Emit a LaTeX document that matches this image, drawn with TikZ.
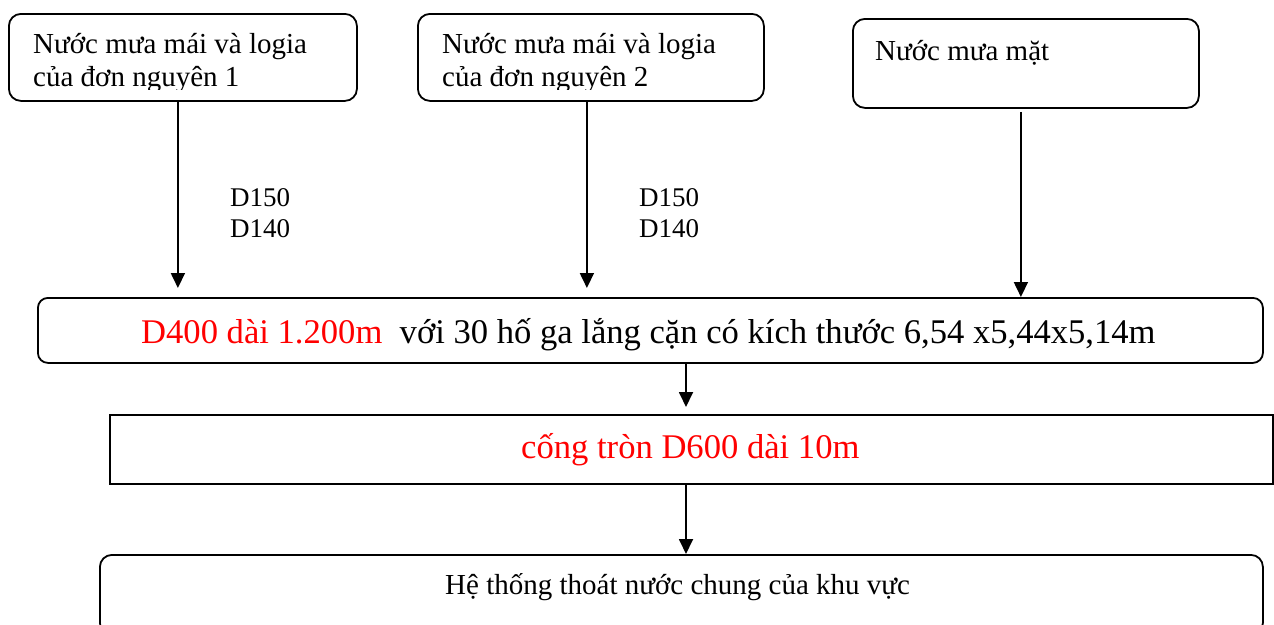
\documentclass[tikz,border=0pt]{standalone}
\usepackage{fontspec}
\setmainfont{Liberation Serif}
\usetikzlibrary{arrows.meta}
\begin{document}
\begin{tikzpicture}[x=1pt,y=-1pt,
  rbox/.style={draw, line width=1.8pt, rounded corners=12pt, inner sep=0pt, anchor=north west},
  sbox/.style={draw, line width=1.8pt, inner sep=0pt, anchor=north west},
  flow/.style={line width=1.8pt, -{Triangle[width=14pt,length=15pt]}},
  lbl/.style={anchor=base west, inner sep=0pt, font=\fontsize{27}{33}\selectfont},
  txt/.style={anchor=base west, inner sep=0pt, font=\fontsize{29}{33}\selectfont},
  big/.style={anchor=base west, inner sep=0pt, font=\fontsize{34.6}{40}\selectfont},
]
\useasboundingbox (0,0) rectangle (1274,624);

% boxes
\node[rbox, minimum width=348pt, minimum height=87pt] (s1) at (8,13) {};
\node[rbox, minimum width=346pt, minimum height=87pt] (s2) at (417,13) {};
\node[rbox, minimum width=346pt, minimum height=89pt] (s3) at (852,18) {};
\node[rbox, rounded corners=10pt, minimum width=1225pt, minimum height=65pt] (main) at (37,297) {};
\node[sbox, minimum width=1163pt, minimum height=69pt] (pipe) at (109,414) {};
\node[rbox, minimum width=1163pt, minimum height=80pt] (out) at (99,554) {};

% source texts (second lines cut off at the frame of the text area)
\begin{scope}
  \clip (0,0) rectangle (1274,89);
  \node[txt] (t1a) at (33,53) {Nước mưa mái và logia};
  \node[txt] (t1b) at (33,86) {của đơn nguyên 1};
  \node[txt] (t2a) at (442,53) {Nước mưa mái và logia};
  \node[txt] (t2b) at (442,86) {của đơn nguyên 2};
\end{scope}
\node[txt] (t3) at (875,60) {Nước mưa mặt};

% pipe sizes
\node[lbl] (l1a) at (230,206) {D150};
\node[lbl] (l1b) at (230,237) {D140};
\node[lbl] (l2a) at (639,206) {D150};
\node[lbl] (l2b) at (639,237) {D140};

% main texts
\node[big] (tm) at (141,343) {\textcolor{red}{D400 dài 1.200m}\ \ với 30 hố ga lắng cặn có kích thước 6,54 x5,44x5,14m};
\node[big, text=red] (tp) at (521,458) {cống tròn D600 dài 10m};
\node[txt] (to) at (445,594) {Hệ thống thoát nước chung của khu vực};

% connectors
\coordinate (cx) at (686,0);
\draw[flow, shorten >=9pt] ([xshift=-5pt]s1.south) -- ([xshift=-5pt]s1.south |- main.north);
\draw[flow, shorten >=9pt] ([xshift=-4pt]s2.south) -- ([xshift=-4pt]s2.south |- main.north);
\draw[flow, shorten <=3pt] ([xshift=-5pt]s3.south) -- ([xshift=-5pt]s3.south |- main.north);
\draw[flow, shorten >=7pt] (main.south -| cx) -- (pipe.north -| cx);
\draw[flow] (pipe.south -| cx) -- (out.north -| cx);
\end{tikzpicture}
\end{document}
